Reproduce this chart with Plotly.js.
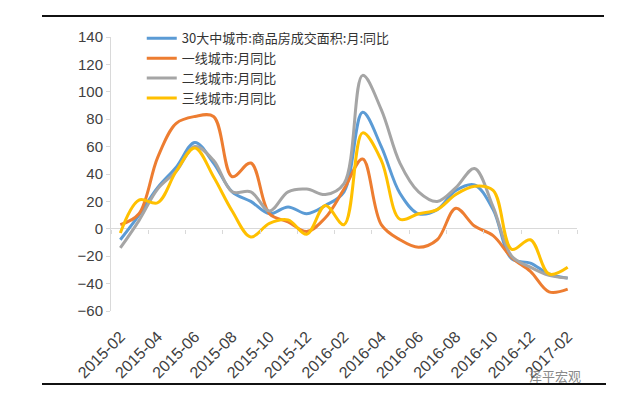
<!DOCTYPE html>
<html>
<head>
<meta charset="utf-8">
<script src="https://cdn.plot.ly/plotly-3.0.1.min.js"></script>
<style>
  html, body { margin: 0; padding: 0; background: #fff; }
  #chart { width: 640px; height: 400px; position: relative; }
  .rule { position: absolute; background: #111; }
</style>
</head>
<body>
<div id="chart"></div>
<div class="rule" style="left:42px; top:15px; width:562px; height:2px;"></div>
<div class="rule" style="left:42px; top:383px; width:564px; height:2px;"></div>
<script>
const months = ["2015-02","2015-03","2015-04","2015-05","2015-06","2015-07","2015-08","2015-09","2015-10","2015-11","2015-12","2016-01","2016-02","2016-03","2016-04","2016-05","2016-06","2016-07","2016-08","2016-09","2016-10","2016-11","2016-12","2017-01","2017-02"];
const tickLabels = ["2015-02","2015-04","2015-06","2015-08","2015-10","2015-12","2016-02","2016-04","2016-06","2016-08","2016-10","2016-12","2017-02"];
const seriesNames = ["30大中城市:商品房成交面积:月:同比","一线城市:月同比","二线城市:月同比","三线城市:月同比"];
const city30 = [-8,10,30,45,63,48,27,20,11,16,11,17,27,85,60,26,11,14,28,32,14,-22,-25,-33,-36];
const tier1  = [3,11,52,77,82,82,38,48,11,5,-2,8,29,51,3,-8,-13.5,-8,15,2,-5,-21,-31,-46,-44];
const tier2  = [-14,6,29,42,60,50,27,27,13,27,29,25,33,112,87,48,27,20,30,44,16,-20,-28,-34,-36];
const tier3  = [-3,21,19,42,59,38,13,-6,4,6.5,-4,17,3,70,50,7,11,14,25,31,28,-15,-8,-33,-28];
const colors = ["#5B9BD5","#ED7D31","#A5A5A5","#FFC000"];
const values = [city30, tier1, tier2, tier3];

const traces = values.map((v, k) => ({
  type: "scatter", mode: "lines", x: months, y: v, name: seriesNames[k],
  line: {color: colors[k], width: 3, shape: "spline", smoothing: 1}
}));
// invisible helper trace so the zero-line tick axis is drawn
traces.push({type: "scatter", mode: "lines", x: months, y: city30, xaxis: "x2",
  line: {width: 0, color: "rgba(0,0,0,0)"}, showlegend: false, hoverinfo: "skip"});

const layout = {
  width: 640, height: 400,
  margin: {l: 111, r: 63, t: 37, b: 89},
  paper_bgcolor: "#fff", plot_bgcolor: "#fff",
  showlegend: true,
  legend: {x: 0.066, y: 1.05, xanchor: "left", yanchor: "top", bgcolor: "rgba(0,0,0,0)",
    font: {family: "Noto Sans CJK SC", size: 13, color: "#333"}, tracegroupgap: 0},
  xaxis: {type: "category", range: [-0.5, 24.5], tickmode: "array", tickvals: tickLabels,
    tickangle: -45, showline: false, showgrid: false, zeroline: false,
    ticks: "outside", ticklen: 9, tickcolor: "rgba(0,0,0,0)",
    tickfont: {family: "Liberation Sans, Arial", size: 16, color: "#404040"}},
  xaxis2: {type: "category", overlaying: "x", matches: "x", anchor: "free", position: 0.3,
    range: [-0.5, 24.5], tickmode: "array", tickvals: tickLabels, tickson: "boundaries",
    showticklabels: false, showline: false, showgrid: false, zeroline: false,
    ticks: "outside", ticklen: 4, tickcolor: "#D9D9D9"},
  yaxis: {range: [-60, 140], dtick: 20, tick0: 0, showline: true, linecolor: "#D9D9D9",
    ticks: "outside", ticklen: 4, tickcolor: "#D9D9D9", showgrid: false,
    zeroline: true, zerolinecolor: "#D9D9D9", zerolinewidth: 1,
    tickfont: {family: "Liberation Sans, Arial", size: 15, color: "#404040"}},
  annotations: [{xref: "paper", yref: "paper", x: 0.893, y: -0.234, xanchor: "left", yanchor: "middle",
    text: "泽平宏观", showarrow: false,
    font: {family: "Noto Sans CJK SC", size: 13, color: "#8a8a8a"}}]
};
Plotly.newPlot("chart", traces, layout, {displayModeBar: false, staticPlot: true});
</script>
</body>
</html>
